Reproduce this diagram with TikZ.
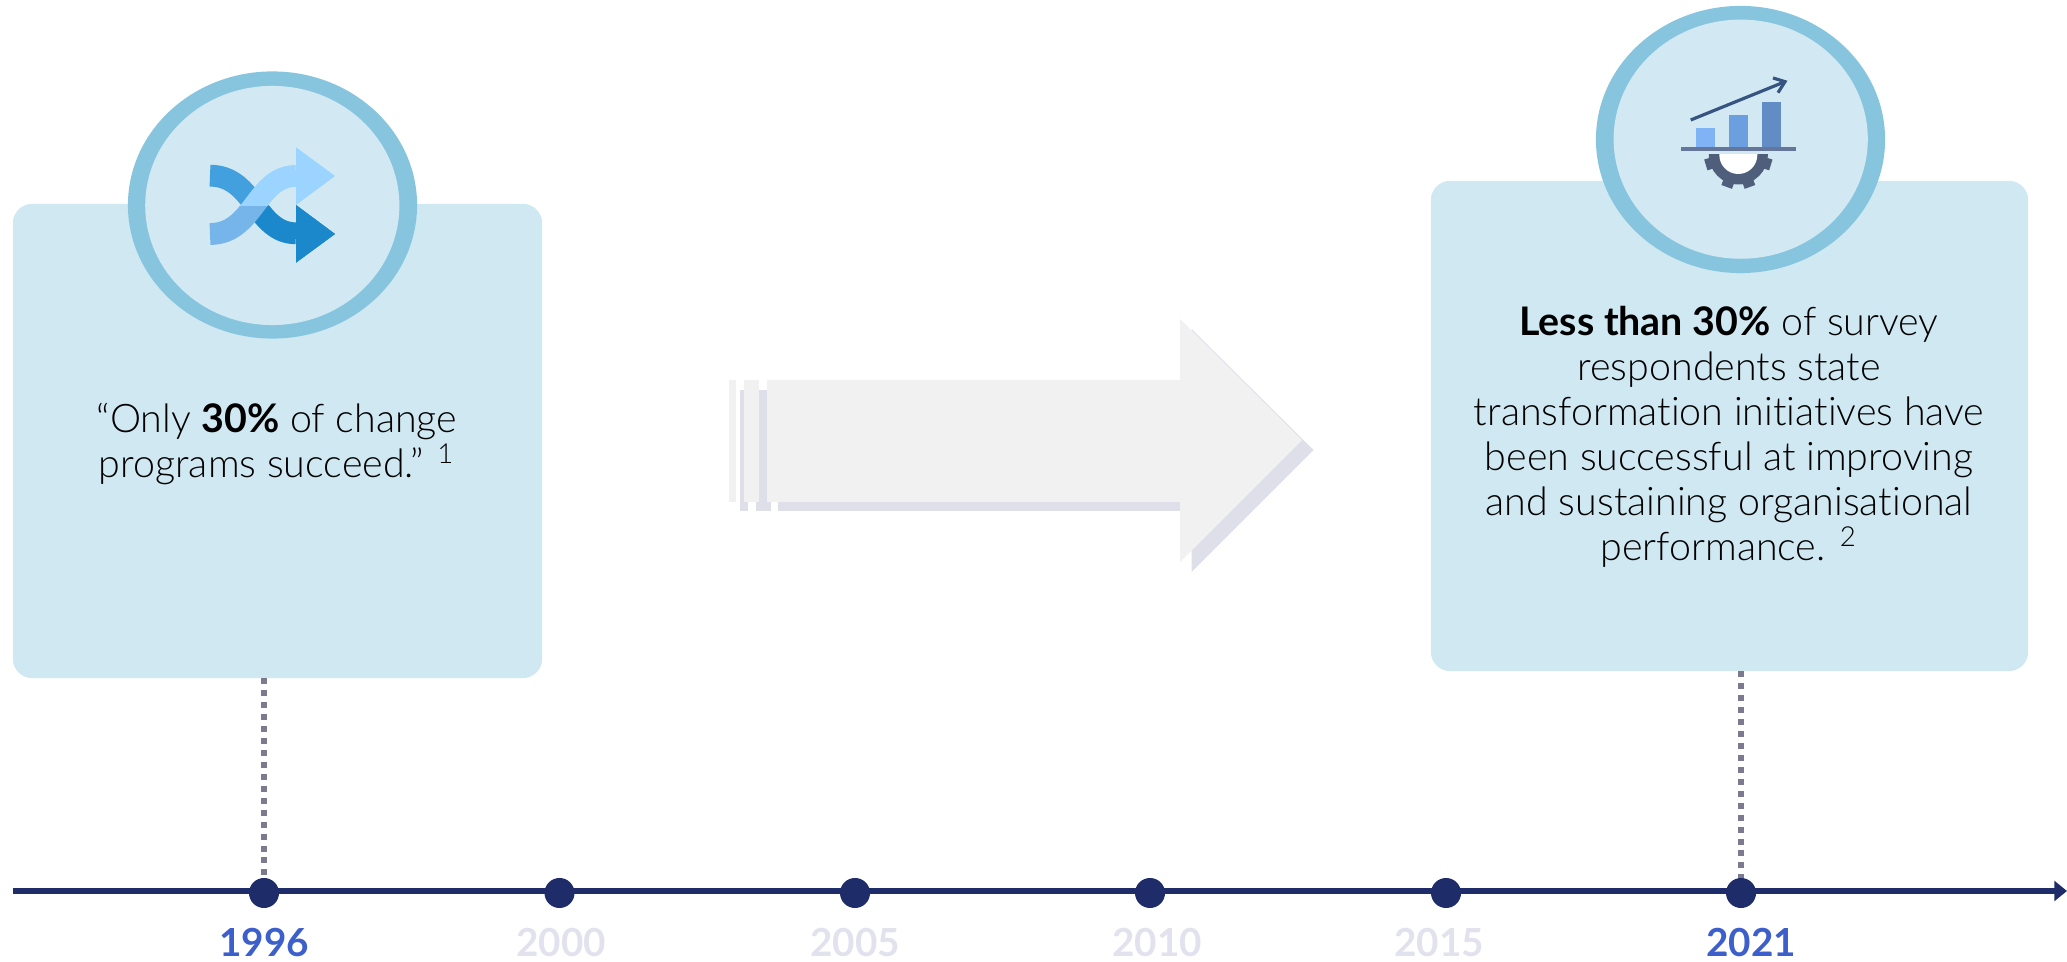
\documentclass[tikz,border=0pt]{standalone}
\usepackage{fontspec}
\setmainfont{Lato Light}[BoldFont={Lato Bold},Ligatures=CommonOff]
\usepackage{xcolor}
\usetikzlibrary{arrows.meta,shapes.geometric}
\definecolor{boxfill}{HTML}{CFE8F2}
\definecolor{ringblue}{HTML}{87C5DF}
\definecolor{ringfill}{HTML}{D2E9F4}
\definecolor{lineblue}{HTML}{1E2C69}
\definecolor{dotgrey}{HTML}{7B7A8E}
\definecolor{yearon}{HTML}{3C5FCC}
\definecolor{yearoff}{HTML}{E2E2EE}
\definecolor{arrowfront}{HTML}{F1F1F1}
\definecolor{arrowback}{HTML}{DFDFE9}
\definecolor{swapupper}{HTML}{42A0DE}
\definecolor{swaplower}{HTML}{1A88CA}
\definecolor{swaplight}{HTML}{9BD5FF}
\definecolor{swapmid}{HTML}{75B5EA}
\definecolor{gearblue}{HTML}{4F5F7B}
\definecolor{barone}{HTML}{7FB3F5}
\definecolor{bartwo}{HTML}{6B9FDF}
\definecolor{barthree}{HTML}{618CC4}
\definecolor{shelfblue}{HTML}{64779A}
\definecolor{trendblue}{HTML}{36547F}
\tikzset{
  panel/.style={fill=boxfill,rounded corners=5.5pt,inner sep=0,outer sep=0},
  ringout/.style={ellipse,fill=ringblue,inner sep=0,outer sep=0,minimum width=2.89cm,minimum height=2.67cm},
  ringin/.style={ellipse,fill=ringfill,inner sep=0,outer sep=0,minimum width=2.54cm,minimum height=2.39cm},
  panelnote/.style={align=center,font=\fontsize{11.2}{12.8}\selectfont,text=black},
  yeardot/.style={circle,fill=lineblue,inner sep=0,outer sep=0,minimum size=.3cm},
  yearlabel/.style={anchor=base,font=\fontsize{11}{12}\selectfont\bfseries},
  leader/.style={draw=dotgrey,line width=1.8pt,dash pattern=on 1.7pt off 1.7pt},
  swapband/.style={line width=6.2pt},
}
\begin{document}
\begin{tikzpicture}[x=.01cm,y=-.01cm]
\useasboundingbox (0,0) rectangle (2067,962);
% arrow
\fill[arrowback] (778,390)--(1191.5,390)--(1191.5,329)--(1313.5,450)--(1191.5,572)--(1191.5,511)--(778,511)--cycle;
\foreach \xa/\xb in {740/748,755.5/770.5}{
\fill[arrowback] (\xa,390) rectangle (\xb,511);}
\fill[arrowfront] (767,380)--(1180,380)--(1180,319)--(1302,440)--(1180,562)--(1180,502)--(767,502)--cycle;
\foreach \xa/\xb in {728.5/736,744/759}{
\fill[arrowfront] (\xa,380) rectangle (\xb,502);}
% panels
\node[panel,minimum width=5.29cm,minimum height=4.74cm] (leftpanel) at (277.5,441) {};
\node[panel,minimum width=5.97cm,minimum height=4.90cm] (rightpanel) at (1729.5,426) {};
\node[ringout] (leftring) at (272.5,205) {};
\node[ringin] (leftface) at (272.3,205.5) {};
\node[ringout] (rightring) at (1740.5,139.5) {};
\node[ringin] (rightface) at (1740.7,139.2) {};
\node[panelnote] (lefttext) at (277,444) {“Only \textbf{30\%} of change\\programs succeed.” \textsuperscript{1}};
\node[panelnote] (righttext) at (1729,437) {\textbf{Less than 30\%} of survey\\respondents state\\transformation initiatives have\\been successful at improving\\and sustaining organisational\\performance. \textsuperscript{2}};
% shuffle icon
\foreach \ya/\yb/\cc/\dd in {140/206.7/swapupper/swaplight,206.7/270/swaplower/swapmid}{
\begin{scope}
\clip (200,\ya) rectangle (340,\yb);
\draw[swapband,draw=\cc] (210,175.7) .. controls (254,175.7) and (256,233.3) .. (296,233.3);
\end{scope}
\fill[swaplower] (296,205)--(335,234)--(296,262.7)--cycle;
\begin{scope}
\clip (200,\ya) rectangle (340,\yb);
\draw[swapband,draw=\dd] (210,234) .. controls (254,234) and (256,176) .. (296,176);
\end{scope}}
\fill[swaplight] (296,147.3)--(335,176)--(296,205)--cycle;
% chart icon
\begin{scope}
\clip (1690,155) rectangle (1790,195);
\fill[gearblue] (1738.3,155) circle (29.5);
\foreach \aa in {17,70,110,163}{
\draw[line width=3.2pt,draw=gearblue] ([shift={(1738.3,155)}]\aa:24)--([shift={(1738.3,155)}]\aa:34);}
\fill[white] (1738.3,155) circle (19);
\end{scope}
\fill[barone] (1696.3,128.3) rectangle (1715,147);
\fill[bartwo] (1729,115) rectangle (1748,147);
\fill[barthree] (1762,101.7) rectangle (1780.7,147);
\fill[shelfblue] (1681,147) rectangle (1796,151);
\draw[line width=.9pt,draw=trendblue] (1690.7,120)--(1785,81.7);
\draw[line width=.9pt,draw=trendblue] (1773,78)--(1785,81.7)--(1778,92.7);
% timeline
\coordinate (linestart) at (12.5,891);
\coordinate (lineend) at (2067,891);
\draw[draw=lineblue,line width=1.9pt,-{Triangle[length=3.6pt,width=5.6pt]}] (linestart)--(lineend);
\foreach \xx/\lx/\yy/\cc in {264/264/1996/yearon,559.5/561/2000/yearoff,855/855/2005/yearoff,1150/1157/2010/yearoff,1446/1439/2015/yearoff,1741/1751/2021/yearon}{
\node[yeardot] (dot\yy) at (\xx,893) {};
\node[yearlabel,text=\cc] (year\yy) at (\lx,956.5) {\yy};}
\draw[leader] (dot1996 |- leftpanel.south)--(dot1996.north);
\draw[leader] (dot2021 |- rightpanel.south)--(dot2021.north);
\end{tikzpicture}
\end{document}
